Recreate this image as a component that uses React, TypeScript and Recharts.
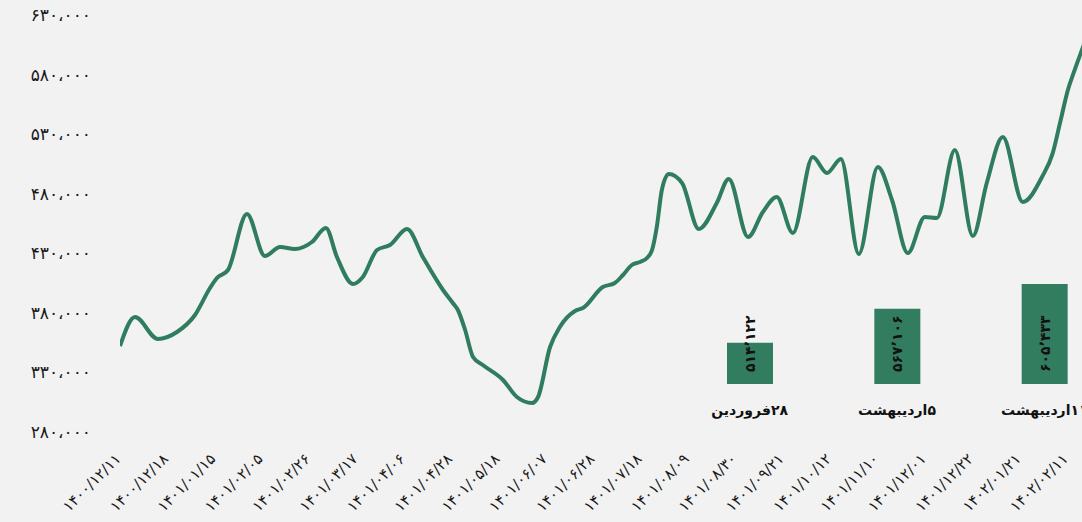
import React from 'react';
import { LineChart, Line, XAxis, YAxis, BarChart, Bar, LabelList } from 'recharts';

// Trading-day index of each sampled point of the price line
const days = [0, 4.75, 12, 18.05, 23.75, 28.5, 30.7, 34.2, 40.2, 45.9, 50.7, 55.4, 60.8, 65.2, 68.7, 73.8, 76.9, 81.4, 85.5, 90.9, 95.9, 102.3, 105.4, 107, 109.3, 111.8, 114.9, 121.3, 125.7, 130.5, 132.4, 136.2, 139.3, 144.1, 146.6, 152.9, 156.7, 159.3, 162.1, 164.7, 166.9, 168.5, 170, 171.6, 173.8, 178, 183.3, 189, 192.8, 198.9, 203.6, 208, 213.1, 219.4, 223.9, 228.3, 234, 240, 244.5, 249.5, 254.9, 258.7, 264.4, 270.1, 274.5, 279.6, 285.9, 292, 295.4, 297.7, 300.2, 302.1, 305.3];
const prices = [352182, 376523, 358058, 363933, 378202, 400864, 409257, 415971, 462974, 427722, 435276, 433597, 439473, 451223, 426883, 404221, 410096, 432758, 436955, 450384, 426883, 399185, 388274, 382398, 365612, 342950, 336235, 323645, 309377, 304341, 309377, 351343, 368130, 381559, 384077, 401703, 405060, 411775, 420168, 422686, 426043, 432758, 452063, 483118, 496547, 488993, 450384, 472207, 492350, 443669, 464653, 477243, 447027, 510816, 497386, 509137, 429401, 502422, 474725, 430240, 460456, 459617, 516691, 444509, 488993, 527602, 473046, 494029, 514122, 539353, 567106, 582000, 605433];

const tickDays = [0, 15, 30, 45, 60, 75, 90, 105, 120, 135, 150, 165, 180, 195, 210, 225, 240, 255, 270, 285, 300];
const tickLabels = ['۱۴۰۰/۱۲/۱۱', '۱۴۰۰/۱۲/۱۸', '۱۴۰۱/۰۱/۱۵', '۱۴۰۱/۰۲/۰۵', '۱۴۰۱/۰۲/۲۶', '۱۴۰۱/۰۳/۱۷', '۱۴۰۱/۰۴/۰۶', '۱۴۰۱/۰۴/۲۸', '۱۴۰۱/۰۵/۱۸', '۱۴۰۱/۰۶/۰۷', '۱۴۰۱/۰۶/۲۸', '۱۴۰۱/۰۷/۱۸', '۱۴۰۱/۰۸/۰۹', '۱۴۰۱/۰۸/۳۰', '۱۴۰۱/۰۹/۲۱', '۱۴۰۱/۱۰/۱۲', '۱۴۰۱/۱۱/۱۰', '۱۴۰۱/۱۲/۰۱', '۱۴۰۱/۱۲/۲۲', '۱۴۰۲/۰۱/۲۱', '۱۴۰۲/۰۲/۱۱'];
const yTicks = [280000, 330000, 380000, 430000, 480000, 530000, 580000, 630000];

const barNames = ['۲۸فروردین', '۵اردیبهشت', '۱۱اردیبهشت'];
const barValues = [514122, 567106, 605433];

const lineData = days.map((d, i) => ({ day: d, price: prices[i] }));
const barData = barNames.map((n, i) => ({ name: n, value: barValues[i] }));

const faDigits = (s: string) => s.replace(/\d/g, (d) => '۰۱۲۳۴۵۶۷۸۹'[+d]);
const group = (v: number, sep: string) => String(Math.round(v)).replace(/\B(?=(\d{3})+(?!\d))/g, sep);
const fmtY = (v: number) => faDigits(group(v, '،'));
const fmtBar = (v: number) => faDigits(group(v, '٬'));

const FONT = '"DejaVu Sans", sans-serif';

const XTick = (props: any) => {
  const { x, y, payload } = props;
  const idx = tickDays.indexOf(payload.value);
  return (
    <g transform={`translate(${x - 2},${y + 16})`}>
      <text transform="rotate(-45)" textAnchor="end" dy="0.35em" fill="#1a1a1a" fontSize={15} letterSpacing={2.2} fontFamily={FONT}>
        {tickLabels[idx]}
      </text>
    </g>
  );
};

const YTick = (props: any) => {
  const { x, y, payload } = props;
  return (
    <text x={x} y={y} dy="0.35em" textAnchor="end" fill="#1a1a1a" fontSize={17} letterSpacing={5.5} fontFamily={FONT}>
      {fmtY(payload.value)}
    </text>
  );
};

const BarTick = (props: any) => {
  const { x, y, payload } = props;
  return (
    <text x={x} y={y + 18} dy="0.35em" textAnchor="middle" direction="rtl" fill="#111" fontSize={14} fontWeight="bold" fontFamily={FONT}>
      {payload.value}
    </text>
  );
};

const BarValueLabel = (props: any) => {
  const { x, y, width, height, value } = props;
  const cx = x + width / 2;
  const by = y + height - 12;
  return (
    <text transform={`translate(${cx},${by}) rotate(-90)`} textAnchor="start" dominantBaseline="central" fontSize={14} fontWeight="bold" fill="#111" fontFamily={FONT}>
      {fmtBar(value)}
    </text>
  );
};

export default function App() {
  return (
    <div style={{ position: 'absolute', left: 0, top: 0, width: 1082, height: 522, overflow: 'hidden', background: '#f2f2f2', fontFamily: FONT }}>
      <div style={{ position: 'absolute', left: 0, top: 0 }}>
        <LineChart width={1100} height={522} data={lineData} margin={{ top: 15, right: 16, bottom: 0, left: 0 }}>
          <XAxis dataKey="day" type="number" domain={[0, 'dataMax']} allowDataOverflow ticks={tickDays} interval={0} tick={<XTick />} axisLine={false} tickLine={false} height={90} />
          <YAxis type="number" domain={[280000, 630000]} allowDataOverflow ticks={yTicks} interval={0} width={120} axisLine={false} tickLine={false} tickMargin={23} tick={<YTick />} />
          <Line type="monotone" dataKey="price" stroke="#2f7d5e" strokeWidth={4} dot={false} activeDot={false} isAnimationActive={false} />
        </LineChart>
      </div>
      <div style={{ position: 'absolute', left: 676, top: 284 }}>
        <BarChart width={442} height={140} data={barData} margin={{ top: 0, right: 0, bottom: 0, left: 0 }}>
          <XAxis dataKey="name" interval={0} tick={<BarTick />} axisLine={false} tickLine={false} height={40} />
          <YAxis hide type="number" domain={[450000, 'dataMax']} allowDataOverflow />
          <Bar dataKey="value" fill="#327c60" barSize={46} isAnimationActive={false}>
            <LabelList dataKey="value" content={<BarValueLabel />} />
          </Bar>
        </BarChart>
      </div>
    </div>
  );
}
